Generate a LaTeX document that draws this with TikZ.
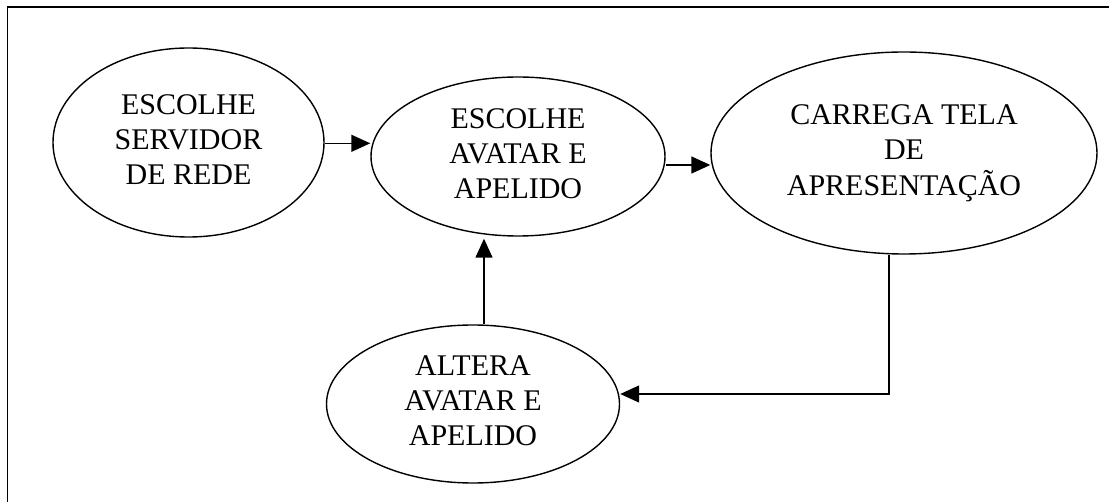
\documentclass[tikz,border=0pt]{standalone}
\usepackage{fontspec}
\setmainfont{Liberation Serif}
\usetikzlibrary{shapes.geometric,arrows.meta}
\newcommand{\lns}[1]{\begin{tabular}{@{}c@{}}#1\end{tabular}}
\tikzset{
  state/.style={draw, ellipse, line width=1.4pt, inner sep=0pt, align=center,
    font=\fontsize{30}{35}\selectfont},
  arr/.style={line width=1.4pt, -{Triangle[length=19pt,width=17pt]}},
  frame/.style={line width=1.8pt}
}
\begin{document}
\begin{tikzpicture}[x=1pt,y=-1pt]
\useasboundingbox (0,0) rectangle (1109,502);
\draw[frame] (7.5,502) -- (7.5,7) -- (1109,7);
\node[state, minimum width=271pt, minimum height=189pt] (e1) at (188.5,142.5) {\raisebox{2.5pt}{\lns{ESCOLHE\\SERVIDOR\\DE REDE}}};
\node[state, minimum width=294pt, minimum height=159pt] (e2) at (518,156.5) {\raisebox{-4pt}{\lns{ESCOLHE\\AVATAR E\\APELIDO}}};
\node[state, minimum width=386pt, minimum height=202pt] (e3) at (904,153) {\raisebox{10pt}{\lns{CARREGA TELA\\DE\\APRESENTAÇÃO}}};
\node[state, minimum width=293pt, minimum height=158pt] (e4) at (473,404) {\raisebox{-5pt}{\lns{ALTERA\\AVATAR E\\APELIDO}}};
\coordinate (h1) at (0,143.3);
\coordinate (h2) at (0,165);
\coordinate (v) at (484,0);
\coordinate (c) at (889,394);
\draw[arr] (h1 -| e1.east) -- (h1 -| e2.west);
\draw[arr] (h2 -| e2.east) -- (h2 -| e3.west);
\draw[arr] (v |- e4.north) -- ([yshift=-2pt]v |- e2.south);
\draw[arr] (e3.south -| c) -- (c) -- (c -| e4.east);
\end{tikzpicture}
\end{document}
